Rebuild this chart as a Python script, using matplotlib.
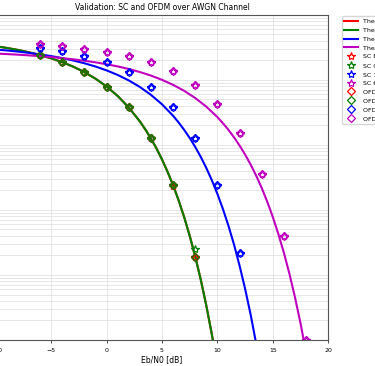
import numpy as np
import matplotlib
matplotlib.use("Agg")
import matplotlib.pyplot as plt

# theoretical curves (denser steps where the curves fall steeply)
ebn0_bpsk = [-10, -9, -8, -7, -6, -5, -4, -3, -2, -1, 0, 1, 2, 3,
             3.5, 4, 4.5, 5, 5.5, 6, 6.5, 7, 7.5, 8, 8.5, 9, 9.5, 10, 11]
theo_bpsk = [0.3272, 0.3079, 0.2867, 0.2638, 0.2392, 0.2133, 0.1861, 0.1584, 0.1307,
             0.1038, 0.0786, 0.0563, 0.0375, 0.0229,
             0.01717, 0.0125, 8.80e-3, 5.95e-3, 3.86e-3, 2.39e-3, 1.40e-3, 7.73e-4,
             3.99e-4, 1.91e-4, 8.4e-5, 3.36e-5, 1.21e-5, 3.87e-6, 2.61e-7]
ebn0_qpsk = ebn0_bpsk
theo_qpsk = theo_bpsk
ebn0_16qam = [-10, -9, -8, -7, -6, -5, -4, -3, -2, -1, 0, 1, 2, 3, 4, 5, 6,
              6.5, 7, 7.5, 8, 8.5, 9, 9.5, 10, 10.5, 11, 11.5, 12, 12.5, 13, 13.5, 14, 14.5, 15]
theo_16qam = [0.2915, 0.2816, 0.2706, 0.2585, 0.2451, 0.2306, 0.2147, 0.1974, 0.1790,
              0.1595, 0.1392, 0.1184, 0.0976, 0.0774, 0.0586, 0.0419, 0.0279,
              0.02202, 0.01696, 0.01272, 9.25e-3, 6.50e-3, 4.39e-3, 2.84e-3, 1.754e-3,
              1.025e-3, 5.65e-4, 2.91e-4, 1.38e-4, 6.08e-5, 2.43e-5, 8.68e-6, 2.76e-6,
              7.7e-7, 1.85e-7]
ebn0_64qam = [-10, -9, -8, -7, -6, -5, -4, -3, -2, -1, 0, 1, 2, 3, 4, 5, 6, 7, 8, 9, 10,
              10.5, 11, 11.5, 12, 12.5, 13, 13.5, 14, 14.5, 15, 15.5, 16, 16.5, 17, 17.5,
              18, 18.5, 19, 20]
theo_64qam = [0.2525, 0.2478, 0.2425, 0.2366, 0.2300, 0.2228, 0.2147, 0.2057, 0.1958,
              0.1849, 0.1730, 0.1601, 0.1462, 0.1313, 0.1158, 0.0996, 0.0834, 0.0675,
              0.0523, 0.0385, 0.0266,
              0.0214, 0.0169, 0.01299, 9.72e-3, 7.06e-3, 4.95e-3, 3.34e-3, 2.16e-3,
              1.325e-3, 7.72e-4, 4.23e-4, 2.17e-4, 1.03e-4, 4.49e-5, 1.78e-5, 6.34e-6,
              2.0e-6, 5.5e-7, 3.0e-8]

# simulated points
ebn0_sim = [-6, -4, -2, 0, 2, 4, 6, 8, 10, 12, 14, 16, 18]
sc_bpsk = [0.239, 0.186, 0.131, 0.0786, 0.0375, 0.0125, 2.35e-3, 1.9e-4]
sc_qpsk = [0.239, 0.186, 0.131, 0.0786, 0.0375, 0.0125, 2.4e-3, 2.5e-4]
sc_16qam = [0.309, 0.278, 0.233, 0.184, 0.132, 0.0778, 0.0375, 0.0125, 2.4e-3, 2.2e-4]
sc_64qam = [0.348, 0.328, 0.295, 0.268, 0.231, 0.184, 0.1355, 0.0826, 0.0418, 0.0153,
            3.5e-3, 4.0e-4, 1.0e-5]
ofdm_bpsk = [0.239, 0.186, 0.131, 0.0786, 0.0375, 0.0125, 2.38e-3, 1.9e-4]
ofdm_qpsk = [0.239, 0.186, 0.131, 0.0786, 0.0375, 0.0125, 2.38e-3, 1.9e-4]
ofdm_16qam = [0.309, 0.278, 0.233, 0.184, 0.132, 0.0778, 0.0375, 0.0125, 2.4e-3, 2.2e-4]
ofdm_64qam = [0.348, 0.328, 0.295, 0.268, 0.231, 0.184, 0.1355, 0.0826, 0.0418, 0.0153,
              3.5e-3, 4.0e-4, 1.0e-5]

mods = ["BPSK", "QPSK", "16-QAM", "64-QAM"]
colors = ["r", "g", "b", "m"]

fig = plt.figure(figsize=(3.75, 3.66), dpi=100)
ax = fig.add_axes([-0.0115, 0.071, 0.887, 0.889])

theo = [(ebn0_bpsk, theo_bpsk), (ebn0_qpsk, theo_qpsk),
        (ebn0_16qam, theo_16qam), (ebn0_64qam, theo_64qam)]
for name, c, (x, y) in zip(mods, colors, theo):
    ax.semilogy(x, y, color=c, lw=1.5, label=f"Theoretical {name}")
for name, c, y in zip(mods, colors, [sc_bpsk, sc_qpsk, sc_16qam, sc_64qam]):
    ax.semilogy(ebn0_sim[:len(y)], y, "*", color=c, mfc="none", ms=6, mew=0.9,
                linestyle="none", label=f"SC {name}")
for name, c, y in zip(mods, colors, [ofdm_bpsk, ofdm_qpsk, ofdm_16qam, ofdm_64qam]):
    ax.semilogy(ebn0_sim[:len(y)], y, "D", color=c, mfc="none", ms=4.5, mew=0.9,
                linestyle="none", label=f"OFDM {name}")

ax.set_xlim(-10, 20)
ax.set_ylim(1e-5, 1)
ax.grid(True, which="both", color="#dddddd", lw=0.5)
ax.tick_params(labelsize=4.5, length=2, width=0.5, which="both")
for s in ax.spines.values():
    s.set_color("#555555")
    s.set_linewidth(0.8)
ax.set_xlabel("Eb/N0 [dB]", fontsize=5.5, labelpad=2)
ax.set_title("Validation: SC and OFDM over AWGN Channel", fontsize=5.5, pad=3)
ax.legend(loc="upper left", bbox_to_anchor=(1.04, 0.995), borderaxespad=0,
          fontsize=4.5, handlelength=2.2, labelspacing=0.55)

fig.savefig("out.png", dpi=100)
